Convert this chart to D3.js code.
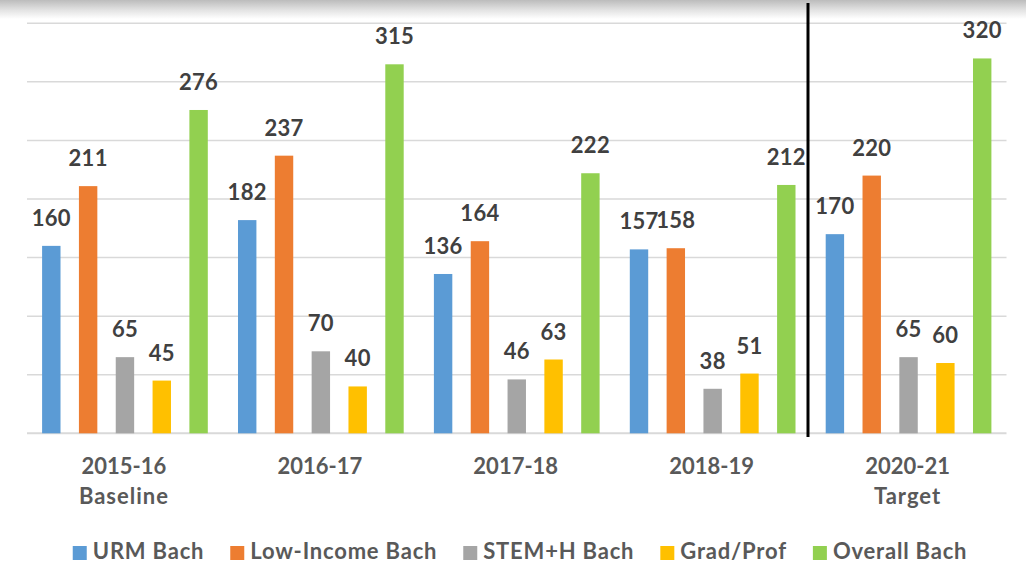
<!DOCTYPE html>
<html>
<head>
<meta charset="utf-8">
<script src="https://cdn.jsdelivr.net/npm/d3@7"></script>
<style>
  body { margin: 0; background: #fff; }
  svg { display: block; font-family: Lato, "Open Sans", sans-serif; }
</style>
</head>
<body>
<div id="chart"></div>
<script>
// data
var categories = ["2015-16", "2016-17", "2017-18", "2018-19", "2020-21"];
var subLabels = ["Baseline", "", "", "", "Target"];
var seriesNames = ["URM Bach", "Low-Income Bach", "STEM+H Bach", "Grad/Prof", "Overall Bach"];
var seriesColors = ["#5b9bd5", "#ed7d31", "#a5a5a5", "#ffc000", "#92d050"];
var urmBach = [160, 182, 136, 157, 170];
var lowIncomeBach = [211, 237, 164, 158, 220];
var stemBach = [65, 70, 46, 38, 65];
var gradProf = [45, 40, 63, 51, 60];
var overallBach = [276, 315, 222, 212, 320];
var gridTicks = [0, 50, 100, 150, 200, 250, 300, 350];

var seriesValues = [urmBach, lowIncomeBach, stemBach, gradProf, overallBach];

var svgWidth = 1026;
var svgHeight = 567;

var plot = { left: 27, right: 1006.5, top: 23.3, bottom: 433.3 };

var svg = d3.select("#chart")
  .append("svg")
  .attr("width", svgWidth)
  .attr("height", svgHeight);

// grey shade along the top edge
var defs = svg.append("defs");
var grad = defs.append("linearGradient")
  .attr("id", "topShade")
  .attr("x1", 0).attr("y1", 0).attr("x2", 0).attr("y2", 1);
grad.append("stop").attr("offset", "0%").attr("stop-color", "#bcbcbc");
grad.append("stop").attr("offset", "55%").attr("stop-color", "#e4e4e4");
grad.append("stop").attr("offset", "100%").attr("stop-color", "#ffffff");

svg.append("rect")
  .attr("x", 0).attr("y", 0)
  .attr("width", svgWidth).attr("height", 19)
  .attr("fill", "url(#topShade)");

// scales
var x0 = d3.scaleBand()
  .domain(categories)
  .range([plot.left, plot.right])
  .padding(0);

var x1 = d3.scaleBand()
  .domain(seriesNames)
  .range([0, x0.bandwidth()])
  .paddingInner(0.5)
  .paddingOuter(0.41);

var y = d3.scaleLinear()
  .domain([0, 350])
  .range([plot.bottom, plot.top]);

// gridlines
svg.append("g")
  .selectAll("line")
  .data(gridTicks)
  .enter()
  .append("line")
  .attr("x1", plot.left)
  .attr("x2", plot.right)
  .attr("y1", d => y(d))
  .attr("y2", d => y(d))
  .attr("stroke", "#d9d9d9")
  .attr("stroke-width", d => d === 0 ? 2 : 1.5);

// flatten into one row per bar
var rows = [];
categories.forEach(function(cat, i) {
  seriesNames.forEach(function(name, j) {
    rows.push({ cat: cat, name: name, value: seriesValues[j][i], color: seriesColors[j] });
  });
});

var bars = svg.append("g");

bars.selectAll("rect")
  .data(rows)
  .enter()
  .append("rect")
  .attr("x", d => x0(d.cat) + x1(d.name))
  .attr("y", d => y(d.value))
  .attr("width", x1.bandwidth())
  .attr("height", d => y(0) - y(d.value))
  .attr("fill", d => d.color);

bars.selectAll("text")
  .data(rows)
  .enter()
  .append("text")
  .attr("x", d => x0(d.cat) + x1(d.name) + x1.bandwidth() / 2)
  .attr("y", d => y(d.value) - 20)
  .attr("text-anchor", "middle")
  .attr("font-size", "22px")
  .attr("font-weight", 700)
  .attr("letter-spacing", "0.3px")
  .attr("fill", "#404040")
  .text(d => d.value);

// black divider before the target year
svg.append("line")
  .attr("x1", 808).attr("x2", 808)
  .attr("y1", 3).attr("y2", 437)
  .attr("stroke", "#000")
  .attr("stroke-width", 3);

// category labels
var catLabels = svg.append("g")
  .attr("font-size", "22px")
  .attr("font-weight", 700)
  .attr("fill", "#595959")
  .attr("text-anchor", "middle");

categories.forEach(function(cat, i) {
  var cx = x0(cat) + x0.bandwidth() / 2 - 1;
  catLabels.append("text").attr("x", cx).attr("y", 474).text(cat);
  if (subLabels[i]) {
    catLabels.append("text").attr("x", cx).attr("y", 504)
      .attr("letter-spacing", "1px")
      .text(subLabels[i]);
  }
});

// legend
var legend = svg.append("g");
var items = legend.selectAll("g")
  .data(seriesNames)
  .enter()
  .append("g");

items.append("rect")
  .attr("y", 546)
  .attr("width", 14)
  .attr("height", 14)
  .attr("fill", (d, i) => seriesColors[i]);

items.append("text")
  .attr("x", 20)
  .attr("y", 559)
  .attr("font-size", "22px")
  .attr("font-weight", 700)
  .attr("letter-spacing", "0.8px")
  .attr("fill", "#595959")
  .text(d => d);

var gap = 26;
var offsets = [];
var pos = 0;
items.each(function() {
  offsets.push(pos);
  pos += 20 + this.querySelector("text").getComputedTextLength() + gap;
});
var total = pos - gap;
var startX = 520 - total / 2;
items.attr("transform", (d, i) => `translate(${startX + offsets[i]}, 0)`);
</script>
</body>
</html>
